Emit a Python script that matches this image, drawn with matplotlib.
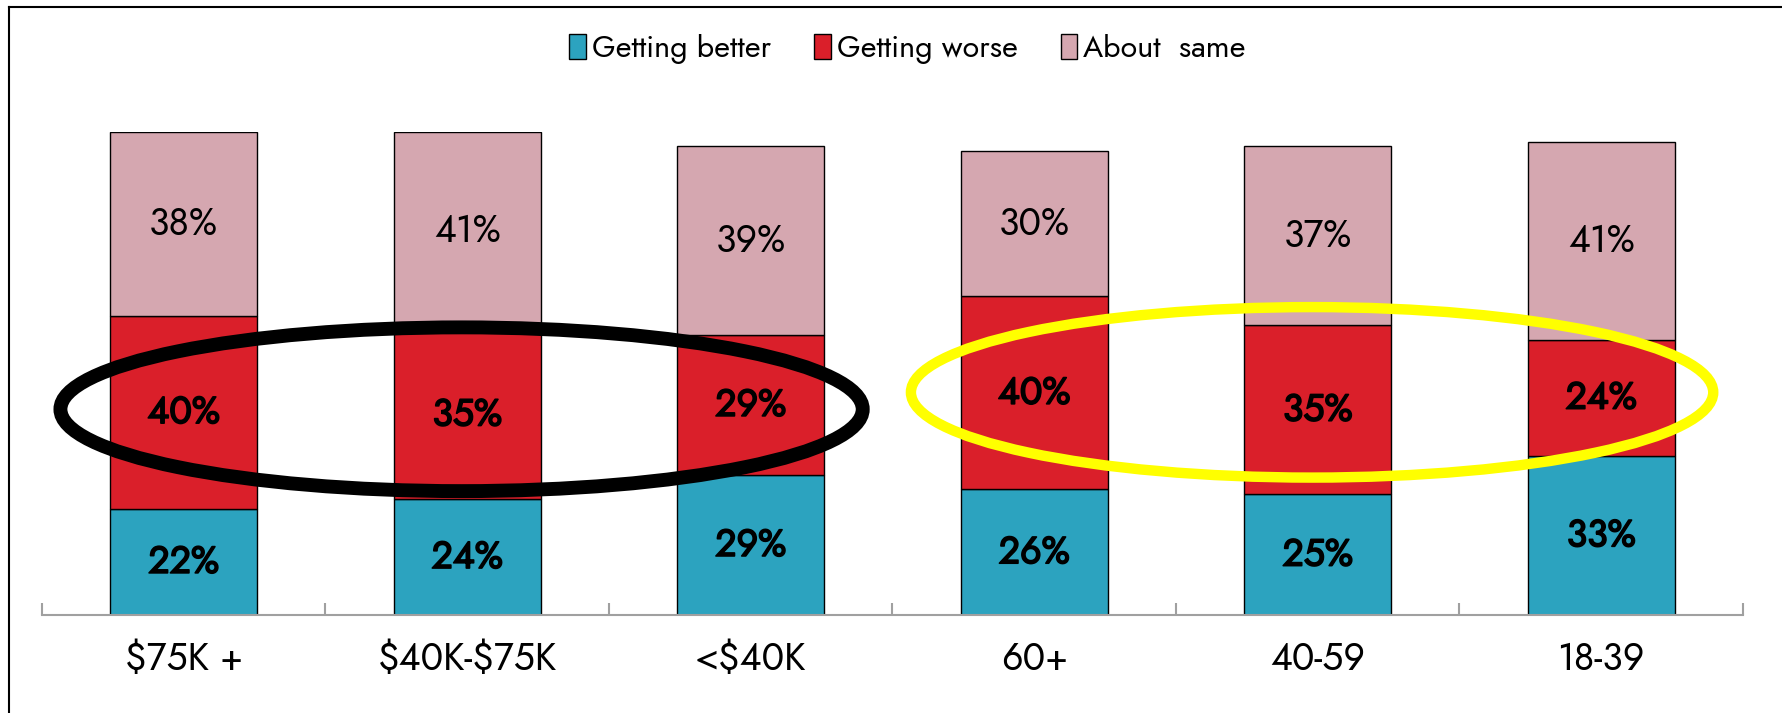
import matplotlib
matplotlib.use("Agg")
import matplotlib.pyplot as plt
import matplotlib.patheffects as pe
from matplotlib.patches import Ellipse
import numpy as np

categories = ["$75K +", "$40K-$75K", "<$40K", "60+", "40-59", "18-39"]
better = [22, 24, 29, 26, 25, 33]
worse = [40, 35, 29, 40, 35, 24]
same = [38, 41, 39, 30, 37, 41]
series_names = ["Getting better", "Getting worse", "About  same"]

COLORS = ["#2CA3BF", "#DA1F2A", "#D5A7B0"]
plt.rcParams["font.family"] = ["Jost", "DejaVu Sans"]

fig = plt.figure(figsize=(17.83, 7.13), dpi=100)
ax = fig.add_axes([42 / 1783, 1 - 615 / 713, (1743 - 42) / 1783, (615 - 132) / 713])

# Jost has no bold face here, so thicken the glyphs with a stroke
fake_bold = [pe.withStroke(linewidth=1.2, foreground="black")]

x = np.arange(len(categories))
bottom = np.zeros(len(categories))
for vals, color, name, bold in zip([better, worse, same], COLORS, series_names, [True, True, False]):
    vals = np.array(vals, dtype=float)
    ax.bar(x, vals, 0.52, bottom=bottom, color=color, edgecolor="black", linewidth=1.0,
           label=name, zorder=2)
    for xi, b, v in zip(x, bottom, vals):
        ax.text(xi, b + v / 2, f"{int(v)}%", ha="center", va="center", fontsize=27,
                path_effects=fake_bold if bold else None, zorder=4)
    bottom += vals

ax.set_xlim(-0.5, len(categories) - 0.5)
ax.set_ylim(0, 100)
ax.set_yticks([])
for s in ["top", "right", "left"]:
    ax.spines[s].set_visible(False)
ax.spines["bottom"].set_color("#A0A0A0")
ax.spines["bottom"].set_linewidth(1.5)
ax.set_xticks(x)
ax.set_xticklabels([c.replace("$", r"\$") for c in categories], fontsize=27)
ax.tick_params(axis="x", length=0, pad=18)
ax.set_xticks(np.arange(-0.5, len(categories)), minor=True)
ax.tick_params(axis="x", which="minor", direction="in", length=9, color="#A0A0A0", width=1.5)

# highlight ellipses around the income groups and the age groups
for grp, col, yc, h, lw in [([0, 1, 2], "black", 42.6, 33.9, 10), ([3, 4, 5], "#FFFF00", 46.1, 35.3, 7.5)]:
    cx = np.mean(grp)
    ax.add_patch(Ellipse((cx - 0.02, yc), 2.83, h, fill=False, edgecolor=col, linewidth=lw,
                         zorder=3, clip_on=False))

fig.legend(loc="center", bbox_to_anchor=(0.509, 0.931), ncol=3, frameon=False, fontsize=22,
           handlelength=0.55, handleheight=0.9, handletextpad=0.2, columnspacing=1.4)

# partial frame (top and left)
fig.add_artist(plt.Line2D([9 / 1783, 9 / 1783], [0, 1 - 7 / 713], color="black", lw=1.5))
fig.add_artist(plt.Line2D([9 / 1783, 1], [1 - 7 / 713, 1 - 7 / 713], color="black", lw=1.5))

fig.savefig("out.png", dpi=100)
